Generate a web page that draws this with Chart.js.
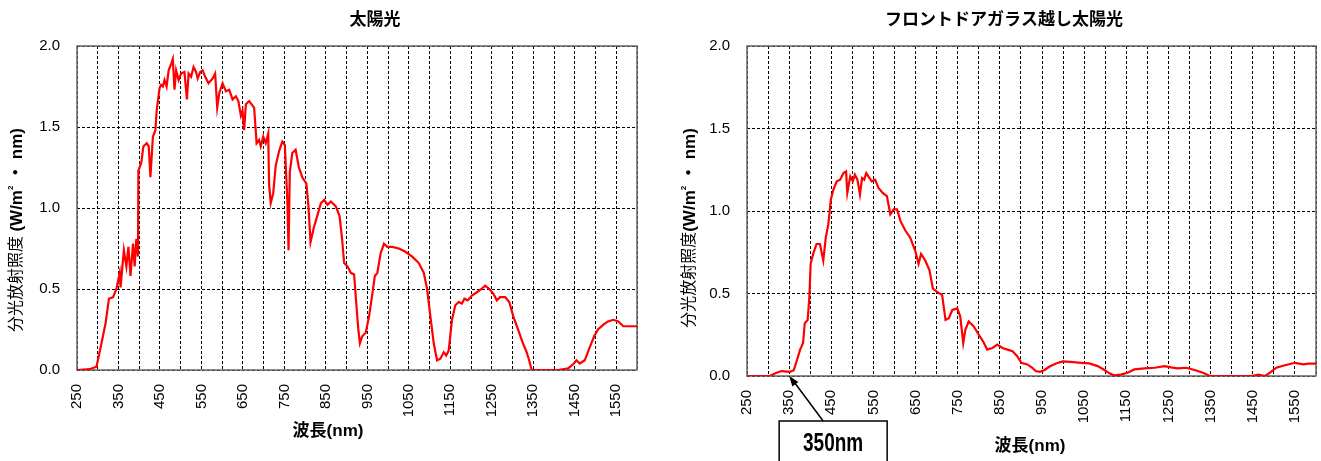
<!DOCTYPE html>
<html>
<head>
<meta charset="utf-8">
<script src="https://cdn.jsdelivr.net/npm/chart.js"></script>
<style>
  html, body { margin: 0; padding: 0; background: #fff; overflow: hidden; }
  canvas { position: absolute; top: 0; }
  #sunChart { left: 0; }
  #glassChart { left: 660px; }
</style>
</head>
<body>
<canvas id="sunChart" width="660" height="461"></canvas>
<canvas id="glassChart" width="680" height="461"></canvas>
<script>
// wavelength (nm) / spectral irradiance
const sunWave = [250, 280, 297, 309, 319, 327, 337, 345, 353, 355, 363, 369, 374, 379, 385, 389, 393, 397, 398, 405,
  410, 418, 423, 427, 433, 439, 442, 449, 453, 457, 461, 466, 471, 477, 481, 485, 489, 495, 501, 509,
  515, 519, 525, 531, 537, 541, 547, 553, 559, 567, 577, 583, 588, 593, 601, 609, 617, 625, 633, 639,
  645, 649, 653, 657, 665, 677, 683, 689, 693, 699, 705, 711, 713, 717, 723, 729, 737, 745, 751, 757,
  760, 763, 769, 777, 785, 793, 803, 808, 813, 821, 829, 838, 846, 854, 862, 874, 883, 889, 894, 902,
  910, 918, 923, 928, 932, 938, 946, 954, 962, 968, 974, 982, 990, 998, 1010, 1026, 1042, 1058, 1074, 1086,
  1094, 1102, 1110, 1118, 1126, 1134, 1140, 1146, 1154, 1162, 1170, 1178, 1184, 1192, 1202, 1214, 1225, 1234, 1244, 1254,
  1262, 1270, 1282, 1292, 1302, 1314, 1325, 1334, 1340, 1346, 1410, 1434, 1446, 1454, 1462, 1474, 1486, 1497, 1506, 1519,
  1530, 1543, 1555, 1567, 1579, 1600];
const sunValue = [0, 0.005, 0.02, 0.165, 0.29, 0.44, 0.45, 0.50, 0.60, 0.51, 0.74, 0.64, 0.76, 0.58, 0.78, 0.64, 0.81, 0.70, 1.23, 1.28,
  1.38, 1.40, 1.38, 1.19, 1.44, 1.48, 1.60, 1.74, 1.76, 1.75, 1.79, 1.75, 1.85, 1.89, 1.92, 1.73, 1.85, 1.79, 1.83, 1.84,
  1.67, 1.83, 1.81, 1.87, 1.84, 1.80, 1.84, 1.85, 1.81, 1.77, 1.80, 1.83, 1.62, 1.71, 1.77, 1.72, 1.73, 1.67, 1.69, 1.66,
  1.57, 1.60, 1.48, 1.64, 1.66, 1.62, 1.40, 1.42, 1.38, 1.44, 1.40, 1.46, 1.15, 1.03, 1.09, 1.26, 1.35, 1.41, 1.39, 1.05,
  0.74, 1.22, 1.34, 1.36, 1.25, 1.19, 1.15, 1.01, 0.79, 0.88, 0.95, 1.03, 1.05, 1.02, 1.04, 1.01, 0.95, 0.81, 0.66, 0.64,
  0.60, 0.59, 0.42, 0.255, 0.165, 0.21, 0.23, 0.33, 0.47, 0.58, 0.60, 0.72, 0.78, 0.76, 0.76, 0.75, 0.73, 0.70, 0.66, 0.60,
  0.50, 0.33, 0.165, 0.06, 0.07, 0.11, 0.09, 0.12, 0.31, 0.40, 0.42, 0.41, 0.44, 0.43, 0.46, 0.48, 0.50, 0.52, 0.50, 0.47,
  0.43, 0.45, 0.45, 0.42, 0.33, 0.245, 0.165, 0.11, 0.06, 0, 0, 0.01, 0.035, 0.06, 0.04, 0.06, 0.14, 0.21, 0.25, 0.28,
  0.30, 0.31, 0.30, 0.27, 0.27, 0.27];

const glassWave = [250, 304, 320, 332, 352, 361, 369, 376, 383, 387, 394, 398, 401, 407, 415, 423, 431, 437, 443, 449,
  455, 463, 471, 479, 485, 488, 495, 501, 506, 512, 518, 523, 528, 533, 538, 546, 554, 562, 572, 582,
  590, 598, 606, 614, 626, 637, 649, 657, 663, 673, 683, 691, 701, 713, 721, 729, 737, 749, 756, 763,
  768, 776, 788, 800, 810, 820, 832, 844, 856, 868, 880, 891, 901, 915, 927, 935, 945, 955, 967, 983,
  999, 1018, 1042, 1062, 1082, 1098, 1110, 1121, 1137, 1153, 1169, 1193, 1217, 1241, 1256, 1272, 1292, 1312, 1332, 1348,
  1447, 1463, 1479, 1491, 1506, 1526, 1550, 1570, 1582, 1600];
const glassValue = [0, 0, 0.02, 0.03, 0.025, 0.035, 0.10, 0.16, 0.20, 0.32, 0.34, 0.48, 0.68, 0.74, 0.80, 0.80, 0.70, 0.84, 0.92, 1.07,
  1.13, 1.18, 1.19, 1.23, 1.24, 1.11, 1.21, 1.18, 1.22, 1.19, 1.10, 1.20, 1.19, 1.23, 1.21, 1.18, 1.19, 1.14, 1.11, 1.09,
  0.98, 1.01, 1.01, 0.94, 0.88, 0.84, 0.76, 0.68, 0.74, 0.70, 0.64, 0.53, 0.51, 0.49, 0.34, 0.35, 0.40, 0.41, 0.36, 0.20,
  0.28, 0.33, 0.30, 0.25, 0.21, 0.16, 0.17, 0.19, 0.17, 0.16, 0.15, 0.12, 0.08, 0.07, 0.05, 0.03, 0.025, 0.035, 0.056, 0.076,
  0.088, 0.086, 0.08, 0.076, 0.06, 0.036, 0.016, 0.004, 0.008, 0.02, 0.04, 0.046, 0.05, 0.06, 0.052, 0.046, 0.05, 0.036, 0.02, 0,
  0, 0.008, 0, 0.02, 0.05, 0.065, 0.08, 0.07, 0.075, 0.075];

const xMin = 250, xMax = 1600;
const yTicks = [0, 0.5, 1.0, 1.5, 2.0];

const FONT = '"Liberation Sans", "Noto Sans CJK JP", sans-serif';

// titles, axis titles, frame and the 350nm callout
function decorPlugin(cfg) {
  return {
    id: 'decor',
    beforeDatasetsDraw(chart) {
      const { ctx, chartArea: a } = chart;
      ctx.save();
      ctx.strokeStyle = '#666';
      ctx.lineWidth = 1.5;
      ctx.strokeRect(a.left, a.top, a.right - a.left, a.bottom - a.top);
      ctx.restore();
    },
    afterDraw(chart) {
      const ctx = chart.ctx;
      ctx.save();
      ctx.fillStyle = '#000';
      ctx.textAlign = 'center';
      ctx.textBaseline = 'middle';
      ctx.font = 'bold 17px ' + FONT;
      ctx.fillText(cfg.title, cfg.titleX, 20);
      ctx.fillText('波長(nm)', cfg.xTitleX, cfg.xTitleY);

      // y axis title, mixed weights
      const parts = [
        { t: cfg.yJp, f: '16px ' + FONT, dy: 0 },
        { t: '(W/m', f: 'bold 17px ' + FONT, dy: 0 },
        { t: '2', f: 'bold 8px ' + FONT, dy: -6 },
        { t: ' ・ nm)', f: 'bold 17px ' + FONT, dy: 0 }
      ];
      let total = 0;
      parts.forEach(p => { ctx.font = p.f; p.w = ctx.measureText(p.t).width; total += p.w; });
      ctx.translate(cfg.yTitleX, cfg.yTitleY);
      ctx.rotate(-Math.PI / 2);
      ctx.textAlign = 'left';
      let pos = -total / 2;
      parts.forEach(p => { ctx.font = p.f; ctx.fillText(p.t, pos, p.dy); pos += p.w; });
      ctx.restore();

      if (cfg.callout) {
        const xs = chart.scales.x, ys = chart.scales.y;
        const tx = xs.getPixelForValue(cfg.callout), ty = ys.getPixelForValue(0);
        const boxL = tx - 10, boxT = 421, boxW = 108;
        const sx = tx + 34, sy = boxT;
        ctx.save();
        ctx.strokeStyle = '#000';
        ctx.fillStyle = '#000';
        ctx.lineWidth = 1.5;
        ctx.strokeRect(boxL, boxT, boxW, 60);
        ctx.beginPath();
        ctx.moveTo(sx, sy);
        ctx.lineTo(tx + 2, ty + 2);
        ctx.stroke();
        const ang = Math.atan2(ty - sy, tx - sx);
        ctx.beginPath();
        ctx.moveTo(tx, ty);
        ctx.lineTo(tx - 11 * Math.cos(ang - 0.35), ty - 11 * Math.sin(ang - 0.35));
        ctx.lineTo(tx - 11 * Math.cos(ang + 0.35), ty - 11 * Math.sin(ang + 0.35));
        ctx.closePath();
        ctx.fill();
        ctx.translate(boxL + boxW / 2, 444);
        ctx.scale(0.76, 1);
        ctx.textAlign = 'center';
        ctx.textBaseline = 'middle';
        ctx.font = 'bold 25px ' + FONT;
        ctx.fillText(cfg.callout + 'nm', 0, 0);
        ctx.restore();
      }
    }
  };
}

function makeChart(id, wave, value, cfg) {
  const points = wave.map((w, i) => ({ x: w, y: value[i] }));
  const ctx = document.getElementById(id).getContext('2d');
  return new Chart(ctx, {
    type: 'line',
    data: {
      datasets: [{
        data: points,
        borderColor: '#ff0000',
        borderWidth: 2.2,
        pointRadius: 0,
        tension: 0,
        fill: false
      }]
    },
    options: {
      responsive: false,
      animation: false,
      devicePixelRatio: 1,
      layout: { padding: { left: 0, top: 46, right: cfg.padRight, bottom: 0 } },
      plugins: { legend: { display: false }, tooltip: { enabled: false } },
      scales: {
        x: {
          type: 'linear',
          min: xMin,
          max: xMax,
          afterFit: s => { s.height = cfg.xAxisH; s.paddingLeft = 0; s.paddingRight = 0; },
          afterBuildTicks: s => {
            const t = [];
            for (let v = xMin; v <= xMax; v += 50) t.push({ value: v });
            s.ticks = t;
          },
          grid: { color: '#000', lineWidth: 1, drawTicks: false },
          border: { display: false, dash: [3, 2] },
          ticks: {
            autoSkip: false,
            minRotation: 90,
            maxRotation: 90,
            padding: 14,
            color: '#000',
            font: { family: FONT, size: 15 },
            callback: v => ((v - xMin) % 100 === 0 && v < xMax ? String(v) : '')
          }
        },
        y: {
          min: 0,
          max: 2,
          afterFit: s => { s.width = cfg.yAxisW; s.paddingTop = 0; s.paddingBottom = 0; },
          afterBuildTicks: s => { s.ticks = yTicks.map(v => ({ value: v })); },
          grid: { color: '#000', lineWidth: 1, drawTicks: false },
          border: { display: false, dash: [3, 2] },
          ticks: {
            padding: 17,
            color: '#000',
            font: { family: FONT, size: 15 },
            callback: v => v.toFixed(1)
          }
        }
      }
    },
    plugins: [decorPlugin(cfg)]
  });
}

makeChart('sunChart', sunWave, sunValue, {
  padRight: 23, xAxisH: 91, yAxisW: 77,
  title: '太陽光', titleX: 375,
  xTitleX: 328, xTitleY: 431,
  yJp: '分光放射照度 ', yTitleX: 17, yTitleY: 230
});

makeChart('glassChart', glassWave, glassValue, {
  padRight: 24, xAxisH: 85, yAxisW: 87,
  title: 'フロントドアガラス越し太陽光', titleX: 344,
  xTitleX: 370, xTitleY: 446,
  yJp: '分光放射照度', yTitleX: 30, yTitleY: 228,
  callout: 350
});
</script>
</body>
</html>
